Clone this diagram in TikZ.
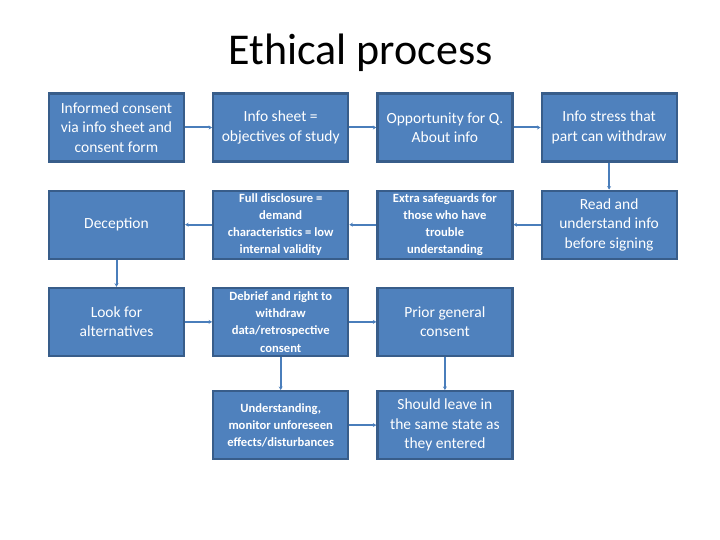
\documentclass[tikz,border=0pt]{standalone}
\usepackage{fontspec}
\setmainfont{Carlito}
\usetikzlibrary{arrows.meta,positioning}
\definecolor{BoxBlue}{HTML}{4F81BD}
\definecolor{EdgeBlue}{HTML}{385D8A}
\definecolor{LineBlue}{HTML}{4A7EBB}
\tikzset{
  card/.style={draw=EdgeBlue,fill=BoxBlue,line width=2.2pt,minimum width=135pt,minimum height=68pt,inner sep=1pt,align=center,text=white,font=\fontsize{15.5}{19.5}\selectfont},
  bcard/.style={card,font=\fontsize{12.6}{17.2}\selectfont\bfseries},
  flow/.style={-{Stealth[length=3.5pt,width=4pt]},draw=LineBlue,line width=2pt},
}
\begin{document}
\begin{tikzpicture}[node distance=27pt]
        \useasboundingbox (0,0) rectangle (720pt,540pt);
        \node[anchor=base,font=\fontsize{44}{52}\selectfont] (title) at (360.5pt,475pt) {Ethical process};
        % first row
        \node[card] (inf) at (116.5pt,412.5pt) {Informed consent\\via info sheet and\\consent form};
        \node[card,right=of inf] (sheet) {Info sheet =\\objectives of study};
        \node[card,right=of sheet] (opp) {Opportunity for Q.\\About info};
        \node[card,right=of opp] (stress) {Info stress that\\part can withdraw};
        % second row
        \node[card,below=of inf] (dec) {Deception};
        \node[bcard,below=of sheet] (full) {Full disclosure =\\demand\\characteristics = low\\internal validity};
        \node[bcard,below=of opp] (extra) {Extra safeguards for\\those who have\\trouble\\understanding};
        \node[card,below=of stress] (read) {Read and\\understand info\\before signing};
        % third row
        \node[card,below=of dec] (look) {Look for\\alternatives};
        \node[bcard,below=of full] (debrief) {Debrief and right to\\withdraw\\data/retrospective\\consent};
        \node[card,below=of extra] (prior) {Prior general\\consent};
        % fourth row
        \node[bcard,below=33pt of debrief] (under) {Understanding,\\monitor unforeseen\\effects/disturbances};
        \node[card,below=33pt of prior] (leave) {Should leave in\\the same state as\\they entered};
        \draw[flow] (inf) -- (sheet);
        \draw[flow] (sheet) -- (opp);
        \draw[flow] (opp) -- (stress);
        \draw[flow] (stress) -- (read);
        \draw[flow] (read) -- (extra);
        \draw[flow] (extra) -- (full);
        \draw[flow] (full) -- (dec);
        \draw[flow] (dec) -- (look);
        \draw[flow] (look) -- (debrief);
        \draw[flow] (debrief) -- (prior);
        \draw[flow] (debrief) -- (under);
        \draw[flow] (under) -- (leave);
        \draw[flow] (prior) -- (leave);
      \end{tikzpicture}
\end{document}
